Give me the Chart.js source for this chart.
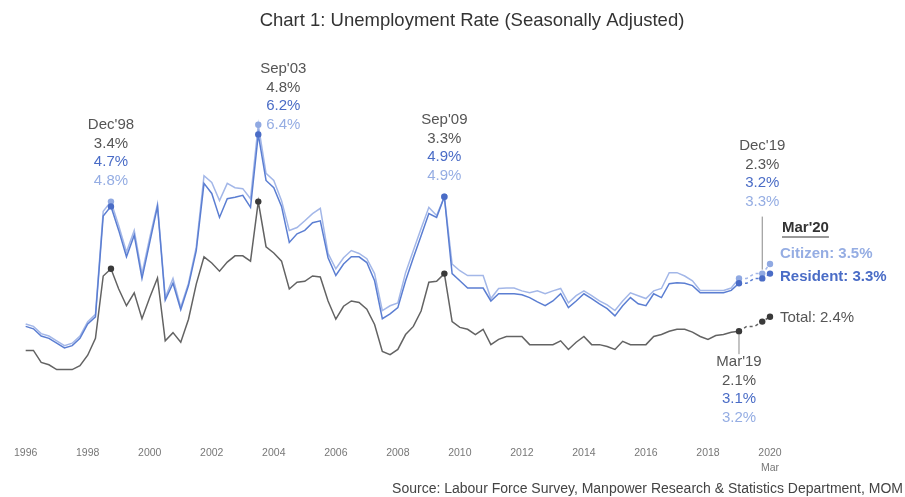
<!DOCTYPE html>
<html>
<head>
<meta charset="utf-8">
<script src="https://cdn.jsdelivr.net/npm/chart.js@4"></script>
<style>
  html, body { margin: 0; padding: 0; background: #fff; }
  #wrap { width: 905px; height: 497px; position: relative; }
</style>
</head>
<body>
<div id="wrap"><canvas id="myChart"></canvas></div>
<script>
// quarterly, Mar'96 .. Mar'20
var years = [1996,1997,1998,1999,2000,2001,2002,2003,2004,2005,2006,2007,2008,2009,2010,2011,2012,2013,2014,2015,2016,2017,2018,2019,2020];
var quarters = ["Mar","Jun","Sep","Dec"];
var tickYears = ["1996","1998","2000","2002","2004","2006","2008","2010","2012","2014","2016","2018","2020"];

var total = [
  1.7, 1.7, 1.45, 1.4,
  1.3, 1.3, 1.3, 1.38,
  1.6, 1.95, 3.25, 3.4,
  2.98, 2.63, 2.9, 2.36,
  2.8, 3.21, 1.9, 2.07,
  1.87, 2.35, 3.08, 3.65,
  3.52, 3.35, 3.54, 3.67,
  3.67, 3.56, 4.8, 3.86,
  3.73, 3.56, 2.98, 3.12,
  3.14, 3.25, 3.23, 2.73,
  2.35, 2.62, 2.73, 2.7,
  2.56, 2.24, 1.68, 1.61,
  1.72, 2.03, 2.2, 2.52,
  3.12, 3.14, 3.3, 2.3,
  2.18, 2.14, 2.03, 2.14,
  1.82, 1.93, 1.99, 1.99,
  1.99, 1.82, 1.82, 1.82,
  1.82, 1.9, 1.72, 1.87,
  1.99, 1.82, 1.82, 1.78,
  1.72, 1.89, 1.82, 1.82,
  1.82, 1.99, 2.03, 2.1,
  2.14, 2.14, 2.08, 1.99,
  1.93, 2.01, 2.03, 2.08,
  2.1, 2.2, 2.2, 2.3,
  2.4
];
var resident = [
  2.2, 2.15, 2.0, 1.95,
  1.85, 1.75, 1.8, 1.95,
  2.25, 2.4, 4.5, 4.7,
  4.2, 3.65, 4.1, 3.2,
  3.95, 4.7, 2.75, 3.1,
  2.55, 3.05, 3.78, 5.18,
  4.97, 4.47, 4.86, 4.89,
  4.93, 4.68, 6.2, 5.24,
  5.09, 4.7, 3.95, 4.13,
  4.2, 4.36, 4.4, 3.63,
  3.26, 3.5, 3.65, 3.65,
  3.53, 3.15, 2.36, 2.46,
  2.59, 3.15, 3.63, 4.09,
  4.55, 4.47, 4.9, 3.3,
  3.15, 3.0, 3.0, 3.0,
  2.73, 2.88, 2.88, 2.88,
  2.86, 2.8, 2.71, 2.63,
  2.73, 2.88, 2.59, 2.73,
  2.88, 2.78, 2.67, 2.57,
  2.42, 2.63, 2.8, 2.67,
  2.63, 2.88, 2.8, 3.09,
  3.11, 3.1, 3.05, 2.9,
  2.9, 2.9, 2.9, 2.95,
  3.1, 3.1, 3.2, 3.2,
  3.3
];
var citizen = [
  2.25, 2.2, 2.05, 2.0,
  1.9, 1.8, 1.85, 2.0,
  2.3, 2.45, 4.6, 4.8,
  4.3, 3.75, 4.2, 3.3,
  4.05, 4.75, 2.8, 3.2,
  2.6, 3.1, 3.85, 5.34,
  5.2, 4.82, 5.18, 5.09,
  5.07, 4.86, 6.4, 5.39,
  5.24, 4.82, 4.2, 4.26,
  4.4, 4.55, 4.66, 3.72,
  3.4, 3.63, 3.78, 3.72,
  3.61, 3.3, 2.53, 2.63,
  2.69, 3.32, 3.78, 4.24,
  4.68, 4.51, 4.9, 3.5,
  3.36, 3.26, 3.26, 3.26,
  2.78, 2.99, 3.0, 3.0,
  2.94, 2.9, 2.94, 2.88,
  2.94, 2.99, 2.69, 2.84,
  2.94, 2.84, 2.73, 2.65,
  2.53, 2.73, 2.9, 2.84,
  2.78, 2.94, 2.99, 3.32,
  3.32, 3.25, 3.15, 2.95,
  2.95, 2.95, 2.95, 3.0,
  3.2, 3.2, 3.3, 3.3,
  3.5
];

// points that get a callout
var calloutIdx = [11, 30, 54, 92, 95];
var calloutDates = ["Dec'98", "Sep'03", "Sep'09", "Mar'19", "Dec'19"];
var endDate = "Mar'20";
var dashFrom = 92;

// category labels built from years/quarters
var categories = [], catYear = [], catQ = [];
years.forEach(function(yr){
  quarters.forEach(function(q){
    if (categories.length < total.length) {
      categories.push(q + "'" + String(yr).slice(2));
      catYear.push(String(yr));
      catQ.push(q);
    }
  });
});
var lastIdx = total.length - 1;

var cGray = "#636363", cText = "#555555";
var cRes = "#5b7ed2", cCit = "#a3b7e8";
var FONT = '"Liberation Sans", Arial, sans-serif';

function dotRadius(c){
  var i = c.dataIndex;
  return (calloutIdx.indexOf(i) >= 0 || i === lastIdx) ? 3.2 : 0;
}
function dashSeg(c){ return c.p0DataIndex >= dashFrom ? [3, 3] : undefined; }

function line(label, data, color, dotColor){
  return {
    label: label, data: data,
    borderColor: color, backgroundColor: dotColor,
    borderWidth: 1.5, pointRadius: dotRadius,
    pointBorderWidth: 0, pointBackgroundColor: dotColor,
    tension: 0, segment: { borderDash: dashSeg }
  };
}

function txt(ctx, s, x, y, color, align, bold, size){
  ctx.font = (bold ? "bold " : "") + (size || 15) + "px " + FONT;
  ctx.fillStyle = color;
  ctx.textAlign = align || "center";
  ctx.textBaseline = "middle";
  ctx.fillText(s, x, y);
}

var annotate = {
  id: "annotate",
  afterDatasetsDraw: function(chart){
    var ctx = chart.ctx, xs = chart.scales.x, ys = chart.scales.y;
    var gap = 18.5;
    ctx.save();
    // title + source
    txt(ctx, "Chart 1: Unemployment Rate (Seasonally Adjusted)", 472, 21, "#333", "center", false, 18.5);
    txt(ctx, "Source: Labour Force Survey, Manpower Research & Statistics Department, MOM", 903, 489, "#444", "right", false, 14);

    calloutIdx.forEach(function(i, k){
      var px = xs.getPixelForValue(i);
      var yT = ys.getPixelForValue(total[i]);
      var yC = ys.getPixelForValue(citizen[i]);
      var lines = [
        [calloutDates[k], cText],
        [total[i].toFixed(1) + "%", cText],
        [resident[i].toFixed(1) + "%", "#4a6cc6"],
        [citizen[i].toFixed(1) + "%", "#95ade3"]
      ];
      var cx = px, first;
      if (calloutDates[k] === "Sep'03") { cx = px + 25; first = yC - 3 * gap; }
      else if (calloutDates[k] === "Mar'19") {
        first = yT + 31;
        ctx.strokeStyle = "#888"; ctx.lineWidth = 1;
        ctx.beginPath(); ctx.moveTo(px, yT + 3); ctx.lineTo(px, yT + 23); ctx.stroke();
      } else if (calloutDates[k] === "Dec'19") {
        first = yC - 72 - 3 * gap;
        ctx.strokeStyle = "#888"; ctx.lineWidth = 1;
        ctx.beginPath(); ctx.moveTo(px, yC - 57); ctx.lineTo(px, yC - 4); ctx.stroke();
      } else { first = yC - 21 - 3 * gap; }
      lines.forEach(function(l, n){ txt(ctx, l[0], cx, first + n * gap, l[1]); });
    });

    // end labels
    var ex = xs.getPixelForValue(lastIdx) + 10;
    var yC = ys.getPixelForValue(citizen[lastIdx]);
    var yR = ys.getPixelForValue(resident[lastIdx]);
    var yT = ys.getPixelForValue(total[lastIdx]);
    txt(ctx, endDate, ex + 2, yC - 36, "#333", "left", true);
    var w = ctx.measureText(endDate).width;
    ctx.strokeStyle = "#333"; ctx.lineWidth = 1;
    ctx.beginPath(); ctx.moveTo(ex + 2, yC - 27); ctx.lineTo(ex + 2 + w, yC - 27); ctx.stroke();
    txt(ctx, "Citizen: " + citizen[lastIdx].toFixed(1) + "%", ex, yC - 10, "#95ade3", "left", true);
    txt(ctx, "Resident: " + resident[lastIdx].toFixed(1) + "%", ex, yR + 3, "#4a6cc6", "left", true);
    txt(ctx, "Total: " + total[lastIdx].toFixed(1) + "%", ex, yT + 1, cText, "left", false);
    ctx.restore();
  }
};

var ctx = document.getElementById("myChart").getContext("2d");
var myChart = new Chart(ctx, {
  type: "line",
  data: {
    labels: categories,
    datasets: [
      line("Resident", resident, cRes, "#4a6cc6"),
      line("Citizen", citizen, cCit, "#90a9e2"),
      line("Total", total, cGray, "#3a3a3a")
    ]
  },
  options: {
    responsive: true,
    maintainAspectRatio: false,
    animation: false,
    layout: { padding: { left: 25, right: 135, top: 96, bottom: 0 } },
    plugins: { legend: { display: false }, tooltip: { enabled: false } },
    scales: {
      x: {
        grid: { display: false, drawTicks: false },
        border: { display: false },
        afterFit: function(s){ s.height = 65; },
        ticks: {
          autoSkip: false, maxRotation: 0, padding: 14,
          color: "#777", font: { family: FONT, size: 10.5, lineHeight: 1.4 },
          callback: function(v, i){
            if (catQ[i] !== "Mar" || tickYears.indexOf(catYear[i]) < 0) return null;
            return i === lastIdx ? [catYear[i], catQ[i]] : catYear[i];
          }
        }
      },
      y: { display: false, min: 0, max: 7 }
    }
  },
  plugins: [annotate]
});
</script>
</body>
</html>
